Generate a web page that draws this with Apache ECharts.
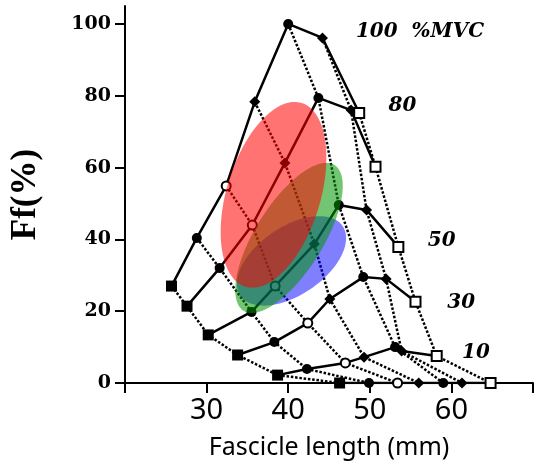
<!DOCTYPE html>
<html><head><meta charset="utf-8">
<script src="https://cdn.jsdelivr.net/npm/echarts@6/dist/echarts.min.js"></script>
<style>html,body{margin:0;padding:0;background:#fff}#c{width:534px;height:471px}</style>
</head><body><div id="c"></div>
<script>
// %MVC levels (solid curves)
const mvcLevels = [100, 80, 50, 30, 10, 0];
// fascicle length (mm) and Ff (%) of each point, per %MVC level; 7 joint-angle columns
const len100 = [25.7, 28.8, 32.4, 35.9, 40.0, 44.2, 48.7];
const ff100  = [27.0, 40.4, 54.9, 78.3, 100.0, 96.1, 75.2];
const len80  = [27.6, 31.6, 35.6, 39.6, 43.7, 47.7, 50.7];
const ff80   = [21.4, 32.0, 44.0, 61.3, 79.4, 76.0, 60.2];
const len50  = [30.2, 35.5, 38.4, 43.2, 46.2, 49.6, 53.5];
const ff50   = [13.4, 19.8, 27.0, 38.7, 49.6, 48.2, 37.9];
const len30  = [33.8, 38.3, 42.4, 45.1, 49.2, 52.0, 55.6];
const ff30   = [7.8, 11.4, 16.7, 23.4, 29.5, 29.0, 22.6];
const len10  = [38.7, 42.3, 47.0, 49.3, 53.1, 53.9, 58.2];
const ff10   = [2.2, 3.9, 5.6, 7.2, 10.0, 8.9, 7.5];
const len0   = [46.3, 49.9, 53.4, 56.0, 59.0, 61.3, 64.8];
const ff0    = [0, 0, 0, 0, 0, 0, 0];

// shaded regions (ellipses): centre (mm, %), semi-axis vectors (mm, %)
const ellCx  = [40.4, 40.1, 38.2];
const ellCy  = [34.0, 40.4, 52.4];
const ellMx  = [6.28, 5.57, 3.44];
const ellMy  = [9.67, 20.3, 25.6];
const ellNx  = [2.32, 3.52, 5.49];
const ellNy  = [-7.86, -5.01, -3.82];

// annotations
const noteTexts = ['100  %MVC', '80', '50', '30', '10'];
const noteX = [48.3, 52.3, 57.1, 59.5, 61.3];
const noteY = [97.8, 77.2, 39.6, 22.3, 8.4];

const yTicks = [0, 20, 40, 60, 80, 100];
const xTicks = [20, 30, 40, 50, 60, 70];
const xLabels = [30, 40, 50, 60];

const levelLens = [len100, len80, len50, len30, len10, len0];
const levelFfs = [ff100, ff80, ff50, ff30, ff10, ff0];
const colSymbols = ['rect', 'circle', 'emptyCircle', 'diamond', 'circle', 'diamond', 'emptyRect'];
const colSizes = [11, 10, 9, 11, 10, 11, 10];
const ellColors = ['rgba(0,0,255,0.5)', 'rgba(0,150,0,0.55)', 'rgba(255,0,0,0.55)'];

const series = [];
levelLens.forEach((lens, li) => {
  series.push({
    type: 'line', name: mvcLevels[li] + '%', data: lens.map((x, i) => [x, levelFfs[li][i]]),
    symbol: 'none', lineStyle: { color: '#000', width: 2.5 }, z: 2, silent: true
  });
});
for (let c = 0; c < 7; c++) {
  series.push({
    type: 'line', data: levelLens.map((lens, li) => [lens[c], levelFfs[li][c]]),
    symbol: colSymbols[c], symbolSize: colSizes[c], showSymbol: true,
    itemStyle: { color: '#000' },
    lineStyle: { color: '#000', width: 2.5, type: [2.5, 1.8] }, z: 3, silent: true
  });
}
series.push({
  type: 'custom', z: 10, silent: true,
  data: ellCx.map((x, i) => [x, ellCy[i], i]),
  renderItem: function (params, api) {
    const i = api.value(2);
    const pts = [];
    for (let k = 0; k < 90; k++) {
      const t = k / 90 * Math.PI * 2;
      const c = Math.cos(t), s = Math.sin(t);
      pts.push(api.coord([ellCx[i] + c * ellMx[i] + s * ellNx[i], ellCy[i] + c * ellMy[i] + s * ellNy[i]]));
    }
    return { type: 'polygon', shape: { points: pts }, style: { fill: ellColors[i], stroke: null } };
  }
});
series.push({
  type: 'custom', z: 11, silent: true,
  data: noteX.map((x, i) => [x, noteY[i], i]),
  renderItem: function (params, api) {
    const i = api.value(2);
    const p = api.coord([noteX[i], noteY[i]]);
    return { type: 'text', x: p[0], y: p[1], style: { text: noteTexts[i], fill: '#000',
      font: 'italic bold 20px "DejaVu Serif"', textAlign: 'left', textVerticalAlign: 'middle' } };
  }
});

const chart = echarts.init(document.getElementById('c'), null, { renderer: 'canvas' });
chart.setOption({
  animation: false,
  backgroundColor: '#fff',
  grid: { left: 124, right: 1, top: 6, bottom: 88, containLabel: false },
  xAxis: {
    type: 'value', min: 20, max: 70, interval: 10,
    axisLine: { show: true, onZero: false, lineStyle: { color: '#000', width: 2 } },
    axisTick: { show: true, length: 10, customValues: xTicks, lineStyle: { color: '#000', width: 2 } },
    axisLabel: { customValues: xLabels, color: '#000', fontFamily: 'Noto Sans', fontSize: 29, margin: 13 },
    splitLine: { show: false },
    name: 'Fascicle length (mm)', nameLocation: 'middle', nameGap: 52,
    nameTextStyle: { color: '#000', fontFamily: 'Noto Sans', fontSize: 25 }
  },
  yAxis: {
    type: 'value', min: 0, max: 105, interval: 20,
    axisLine: { show: true, onZero: false, lineStyle: { color: '#000', width: 2 } },
    axisTick: { show: true, length: 10, customValues: yTicks, lineStyle: { color: '#000', width: 2 } },
    axisLabel: { customValues: yTicks, color: '#000', fontFamily: 'DejaVu Serif', fontWeight: 'bold', fontSize: 19, margin: 14 },
    splitLine: { show: false },
    name: 'Ff(%)', nameLocation: 'middle', nameGap: 82,
    nameTextStyle: { color: '#000', fontFamily: 'Liberation Serif', fontWeight: 'bold', fontSize: 35 }
  },
  series: series
});
</script></body></html>
